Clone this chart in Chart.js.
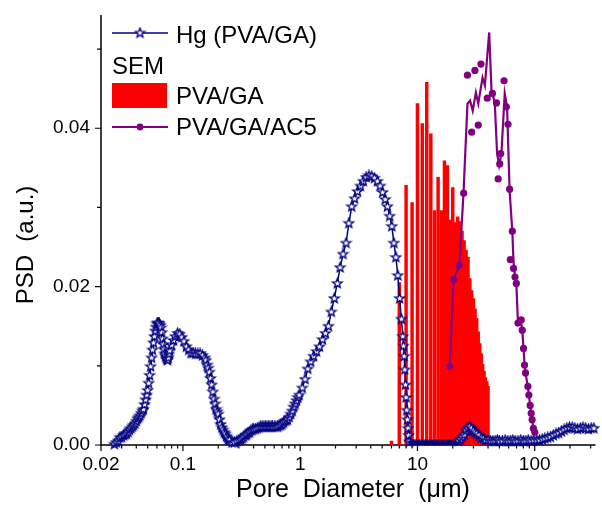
<!DOCTYPE html>
<html>
<head>
<meta charset="utf-8">
<script src="https://cdn.jsdelivr.net/npm/chart.js@4.4.1/dist/chart.umd.min.js"></script>
<style>
  html, body { margin: 0; padding: 0; background: #fff; }
  #wrap { position: relative; width: 602px; height: 514px; }
</style>
</head>
<body>
<div id="wrap"><canvas id="psd"></canvas></div>
<script>
// Hg intrusion, PVA/GA  [diameter um, PSD]
const hgPoints = [
  [0.026,0.0001],[0.027,0.0003],[0.028,0.0005],[0.029,0.0009],[0.030,0.0010],
  [0.031,0.0012],[0.032,0.0013],[0.033,0.0014],[0.034,0.0016],[0.035,0.0019],
  [0.036,0.0021],[0.037,0.0023],[0.038,0.0025],[0.039,0.0027],[0.040,0.0030],
  [0.041,0.0033],[0.042,0.0035],[0.043,0.0037],[0.044,0.0040],[0.045,0.0043],
  [0.046,0.0045],[0.047,0.0051],[0.048,0.0057],[0.049,0.0063],[0.050,0.0069],
  [0.051,0.0078],[0.052,0.0088],[0.053,0.0099],[0.054,0.0110],[0.055,0.0120],
  [0.056,0.0129],[0.057,0.0137],[0.058,0.0144],[0.059,0.0149],[0.060,0.0153],
  [0.061,0.0154],[0.062,0.0154],[0.063,0.0153],[0.064,0.0151],[0.065,0.0148],
  [0.066,0.0142],[0.067,0.0134],[0.068,0.0127],[0.069,0.0121],[0.070,0.0115],
  [0.071,0.0112],[0.072,0.0110],[0.073,0.0108],[0.074,0.0107],[0.075,0.0110],
  [0.076,0.0115],[0.077,0.0119],[0.080,0.0126],[0.083,0.0132],[0.086,0.0137],
  [0.090,0.0141],[0.094,0.0140],[0.098,0.0136],[0.102,0.0131],[0.107,0.0124],
  [0.112,0.0120],[0.117,0.0116],[0.122,0.0116],[0.128,0.0115],[0.134,0.0115],
  [0.140,0.0115],[0.147,0.0113],[0.154,0.0110],[0.157,0.0107],[0.161,0.0101],
  [0.164,0.0097],[0.168,0.0092],[0.172,0.0084],[0.176,0.0076],[0.180,0.0067],
  [0.184,0.0058],[0.188,0.0052],[0.192,0.0045],[0.196,0.0042],[0.200,0.0039],
  [0.205,0.0032],[0.210,0.0026],[0.215,0.0022],[0.220,0.0019],[0.225,0.0016],
  [0.230,0.0014],[0.235,0.0011],[0.240,0.0009],[0.245,0.0007],[0.250,0.0006],
  [0.262,0.0003],[0.275,0.0003],[0.288,0.0005],[0.300,0.0006],
  [0.31,0.0007],[0.32,0.0008],[0.33,0.0010],[0.34,0.0012],[0.35,0.0013],
  [0.36,0.0015],[0.37,0.0016],[0.38,0.0018],[0.39,0.0019],[0.40,0.0020],
  [0.415,0.0020],[0.43,0.0021],[0.445,0.0022],[0.46,0.0023],[0.475,0.0023],
  [0.49,0.0023],[0.505,0.0023],[0.52,0.0023],[0.535,0.0023],[0.55,0.0023],
  [0.565,0.0023],[0.58,0.0023],[0.60,0.0023],[0.62,0.0023],[0.64,0.0023],
  [0.66,0.0024],[0.68,0.0025],[0.70,0.0026],[0.72,0.0028],[0.74,0.0030],
  [0.76,0.0031],[0.78,0.0032],[0.805,0.0035],[0.83,0.0039],[0.855,0.0043],
  [0.88,0.0048],[0.905,0.0052],[0.93,0.0056],[0.955,0.0060],[0.98,0.0063],
  [1.04,0.0072],[1.10,0.0083],[1.16,0.0096],[1.23,0.0105],[1.30,0.0112],
  [1.38,0.0118],[1.46,0.0124],
  [1.55,0.0133],[1.64,0.0141],[1.74,0.0150],[1.84,0.0168],[1.95,0.0185],
  [2.07,0.0204],[2.19,0.0224],[2.32,0.0241],[2.46,0.0255],[2.60,0.0280],
  [2.75,0.0301],[2.91,0.0311],[3.08,0.0320],[3.26,0.0327],[3.45,0.0333],
  [3.65,0.0338],[3.86,0.0340],[4.08,0.0339],[4.31,0.0337],[4.55,0.0333],
  [4.80,0.0327],[5.05,0.0319],[5.30,0.0310],[5.55,0.0301],[5.80,0.0289],
  [6.05,0.0276],[6.30,0.0255],[6.55,0.0237],[6.80,0.0214],[7.05,0.0185],
  [7.30,0.0159],[7.50,0.0137],[7.60,0.0125],[7.70,0.0112],[7.80,0.0095],
  [7.90,0.0076],[8.00,0.0060],[8.10,0.0044],[8.20,0.0032],[8.30,0.0021],
  [8.40,0.0012],[8.50,0.0004],
  [8.7,0.0003],[8.9,0.0003],[9.1,0.0003],[9.3,0.0003],[9.5,0.0003],
  [9.8,0.0003],[10.1,0.0003],[10.4,0.0003],[10.7,0.0003],[11.0,0.0003],
  [11.4,0.0003],[11.8,0.0003],[12.2,0.0003],[12.6,0.0003],[13.0,0.0003],
  [13.5,0.0003],[14.0,0.0003],[14.5,0.0003],[15.0,0.0003],[15.5,0.0003],
  [16.0,0.0003],[16.6,0.0003],[17.2,0.0003],[17.8,0.0003],[18.4,0.0003],
  [19.0,0.0003],[19.7,0.0003],[20.4,0.0003],[21.1,0.0003],[21.8,0.0003],
  [22.5,0.0005],[23.3,0.0007],[24.1,0.0010],[25.0,0.0013],[26.0,0.0018],
  [27.0,0.0021],[28.0,0.0023],[29.0,0.0021],[30.0,0.0018],[31.0,0.0016],
  [32.0,0.0014],[33.5,0.0012],[35.0,0.0009],[36.5,0.0008],[38.0,0.0006],
  [40,0.0006],[42,0.0005],[44,0.0005],[46,0.0005],[48,0.0006],
  [50,0.0005],[53,0.0005],[56,0.0006],[59,0.0005],[62,0.0005],
  [65,0.0006],[68,0.0005],[72,0.0005],[76,0.0006],[80,0.0005],
  [84,0.0005],[88,0.0006],[93,0.0005],[98,0.0006],[104,0.0006],
  [110,0.0006],[116,0.0007],[122,0.0008],[129,0.0009],[136,0.0010],
  [144,0.0012],[152,0.0014],[160,0.0015],[169,0.0017],[178,0.0019],
  [188,0.0021],[198,0.0022],[209,0.0022],[220,0.0021],[232,0.0020],
  [245,0.0021],[258,0.0022],[272,0.0021],[287,0.0020],[303,0.0021],
  [320,0.0021]
];
// stretch where the Hg markers run together into a solid trace
const hgSolidRange = [8.6, 22.2];

// SEM histogram, PVA/GA (1 um bins)
const semDiameter = [6, 7, 8, 9, 10, 11, 12, 13, 14, 15, 16, 17, 18, 19, 20, 21, 22, 23,
  24, 25, 26, 27, 28, 29, 30, 31, 32, 33, 34, 35, 36, 37, 38, 39, 40];
const semPSD = [0.0005, 0.0205, 0.0328, 0.0306, 0.0431, 0.0406, 0.0458, 0.0393, 0.0296,
  0.0338, 0.0296, 0.0359, 0.0353, 0.0284, 0.0325, 0.0281, 0.0288, 0.0282, 0.0270, 0.0258,
  0.0246, 0.0237, 0.0210, 0.0195, 0.0185, 0.0172, 0.0160, 0.0143, 0.0128, 0.0115, 0.0102,
  0.0093, 0.0085, 0.0080, 0.0074];

// PVA/GA/AC5: connecting curve
const ac5CurveDiameter = [18.8, 20.4, 22.8, 24.7, 26.7, 28.1, 29.6, 31.5, 33.0, 35.9, 37.6,
  40.9, 42.8, 45.6, 47.8, 49.7, 52.0, 55.5, 58.1, 61.1, 64.4, 66.0, 67.9, 69.7, 72.0, 76.7,
  78.3, 80.3, 81.9, 83.5, 87.5, 89.2, 91.5, 93.3, 95.1, 97.5, 100.2];
const ac5CurvePSD = [0.0099, 0.0210, 0.0227, 0.0318, 0.0431, 0.0435, 0.0422, 0.0445, 0.0431,
  0.0464, 0.0454, 0.0521, 0.0448, 0.0433, 0.0368, 0.0353, 0.0368, 0.0444, 0.0427, 0.0321,
  0.0270, 0.0231, 0.0212, 0.0204, 0.0154, 0.0155, 0.0145, 0.0122, 0.0101, 0.0091, 0.0073,
  0.0063, 0.0050, 0.0040, 0.0032, 0.0021, 0.0015];

// PVA/GA/AC5: measured points
const ac5Diameter = [18.8, 20.4, 22.8, 24.8, 26.7, 29.0, 30.9, 33.0, 34.8, 39.4, 43.6, 47.2,
  48.8, 50.3, 51.3, 54.8, 57.3, 59.2, 61.1, 62.0, 64.4, 66.0, 67.9, 69.7, 72.0, 76.7, 78.3,
  80.3, 81.9, 83.5, 87.5, 89.2, 91.5, 93.3, 95.1, 97.5, 100.2];
const ac5PSD = [0.0099, 0.0209, 0.0227, 0.0318, 0.0467, 0.0395, 0.0473, 0.0404, 0.0481,
  0.0438, 0.0444, 0.0432, 0.0336, 0.0355, 0.0368, 0.0460, 0.0427, 0.0405, 0.0323, 0.0234,
  0.0270, 0.0223, 0.0212, 0.0204, 0.0154, 0.0158, 0.0145, 0.0122, 0.0101, 0.0091, 0.0074,
  0.0063, 0.0050, 0.0040, 0.0032, 0.0021, 0.0016];

// axis ticks
const xMajorTicks = [0.02, 0.1, 1, 10, 100];
const xTickLabels = ['0.02', '0.1', '1', '10', '100'];
const xMinorTicks = [0.03, 0.04, 0.05, 0.06, 0.07, 0.08, 0.09,
  0.2, 0.3, 0.4, 0.5, 0.6, 0.7, 0.8, 0.9,
  2, 3, 4, 5, 6, 7, 8, 9,
  20, 30, 40, 50, 60, 70, 80, 90,
  200, 300];
const yMajorTicks = [0, 0.02, 0.04];
const yTickLabels = ['0.00', '0.02', '0.04'];
const yMinorTicks = [0.01, 0.03, 0.05];

const NAVY = '#000080';
const RED = '#ff0000';
const PURPLE = '#800080';
const FONT = '"Liberation Sans", Arial, sans-serif';

Chart.defaults.font.family = FONT;
Chart.defaults.color = '#000';

function pairs(xs, ys) {
  return xs.map((x, i) => ({ x: x, y: ys[i] }));
}

function findTick(list, v) {
  return list.findIndex(t => Math.abs(t - v) <= Math.abs(t) * 1e-6 + 1e-12);
}

// five-pointed star marker
function makeStar(r, fill, lw) {
  const s = Math.ceil(r * 2 + 3);
  const c = document.createElement('canvas');
  c.width = s;
  c.height = s;
  const g = c.getContext('2d');
  g.translate(s / 2, s / 2);
  g.beginPath();
  for (let i = 0; i < 10; i++) {
    const rad = i % 2 ? r * 0.42 : r;
    const a = -Math.PI / 2 + i * Math.PI / 5;
    g.lineTo(rad * Math.cos(a), rad * Math.sin(a));
  }
  g.closePath();
  g.fillStyle = fill;
  g.fill();
  g.strokeStyle = NAVY;
  g.lineWidth = lw;
  g.stroke();
  return c;
}
const star = makeStar(5, '#fff', 1.3);
const starSolid = makeStar(3, NAVY, 1);

// axis lines, tick marks, axis titles and the legend block
const decor = {
  id: 'decor',
  beforeDatasetsDraw(chart) {
    const { ctx, chartArea: a, scales: { x, y } } = chart;
    ctx.save();
    ctx.strokeStyle = '#000';
    ctx.lineWidth = 1.5;
    ctx.beginPath();
    ctx.moveTo(a.left, a.top);
    ctx.lineTo(a.left, a.bottom);
    ctx.lineTo(a.right, a.bottom);
    ctx.stroke();
    ctx.lineWidth = 1.2;
    ctx.beginPath();
    xMajorTicks.forEach(v => { const p = x.getPixelForValue(v); ctx.moveTo(p, a.bottom); ctx.lineTo(p, a.bottom + 6); });
    xMinorTicks.forEach(v => { const p = x.getPixelForValue(v); ctx.moveTo(p, a.bottom); ctx.lineTo(p, a.bottom + 3.5); });
    yMajorTicks.forEach(v => { const p = y.getPixelForValue(v); ctx.moveTo(a.left, p); ctx.lineTo(a.left - 6, p); });
    yMinorTicks.forEach(v => { const p = y.getPixelForValue(v); ctx.moveTo(a.left, p); ctx.lineTo(a.left - 4, p); });
    ctx.stroke();
    ctx.restore();
  },
  afterDraw(chart) {
    const ctx = chart.ctx;
    const ds = chart.data.datasets;
    ctx.save();
    ctx.fillStyle = '#000';
    ctx.textBaseline = 'alphabetic';

    // axis titles
    ctx.font = '25px ' + FONT;
    ctx.textAlign = 'center';
    ctx.fillText('Pore  Diameter  (\u03bcm)', 353, 497);
    ctx.font = '24px ' + FONT;
    ctx.save();
    ctx.translate(33, 245);
    ctx.rotate(-Math.PI / 2);
    ctx.fillText('PSD  (a.u.)', 0, 0);
    ctx.restore();

    // legend
    ctx.font = '24px ' + FONT;
    ctx.textAlign = 'left';
    ctx.strokeStyle = ds[1].borderColor;
    ctx.lineWidth = 1.3;
    ctx.beginPath();
    ctx.moveTo(112, 33);
    ctx.lineTo(168, 33);
    ctx.stroke();
    ctx.drawImage(star, 140 - star.width / 2, 33 - star.height / 2);
    ctx.fillText(ds[1].label, 176, 43);

    ctx.fillText('SEM', 112, 74);
    ctx.fillStyle = ds[0].backgroundColor;
    ctx.fillRect(112, 83, 55, 25);
    ctx.fillStyle = '#000';
    ctx.fillText(ds[0].label, 176, 104);

    ctx.strokeStyle = ds[2].borderColor;
    ctx.lineWidth = 2;
    ctx.beginPath();
    ctx.moveTo(112, 127);
    ctx.lineTo(168, 127);
    ctx.stroke();
    ctx.fillStyle = ds[3].pointBackgroundColor;
    ctx.beginPath();
    ctx.arc(140, 127, 3.4, 0, Math.PI * 2);
    ctx.fill();
    ctx.fillStyle = '#000';
    ctx.fillText(ds[2].label, 176, 135);
    ctx.restore();
  }
};

new Chart(document.getElementById('psd'), {
  type: 'line',
  data: {
    datasets: [
      {
        type: 'bar',
        label: 'PVA/GA',
        data: pairs(semDiameter, semPSD),
        backgroundColor: RED,
        borderWidth: 0,
        barThickness: 2.8,
        order: 3
      },
      {
        label: 'Hg (PVA/GA)',
        data: hgPoints.map(p => ({ x: p[0], y: p[1] })),
        borderColor: NAVY,
        borderWidth: 1.5,
        pointStyle: c => (c.raw && c.raw.x > hgSolidRange[0] && c.raw.x < hgSolidRange[1]) ? starSolid : star,
        pointRadius: 5,
        fill: false,
        tension: 0,
        clip: false,
        order: 2
      },
      {
        label: 'PVA/GA/AC5',
        data: pairs(ac5CurveDiameter, ac5CurvePSD),
        borderColor: PURPLE,
        borderWidth: 2.2,
        pointRadius: 0,
        fill: false,
        tension: 0,
        clip: false,
        order: 1
      },
      {
        label: 'PVA/GA/AC5 points',
        data: pairs(ac5Diameter, ac5PSD),
        showLine: false,
        pointRadius: 3.6,
        pointBackgroundColor: PURPLE,
        pointBorderColor: PURPLE,
        pointBorderWidth: 0,
        clip: false,
        order: 0
      }
    ]
  },
  options: {
    responsive: true,
    maintainAspectRatio: false,
    devicePixelRatio: 1,
    animation: false,
    events: [],
    layout: { padding: { left: 0, right: 2, top: 15, bottom: 0 } },
    plugins: { legend: { display: false }, tooltip: { enabled: false } },
    scales: {
      x: {
        type: 'logarithmic',
        min: 0.02,
        max: 330,
        offset: false,
        bounds: 'data',
        grid: { display: false, drawTicks: false, offset: false },
        border: { display: false },
        afterBuildTicks: s => {
          s.ticks = xMajorTicks.concat(xMinorTicks).sort((a, b) => a - b).map(v => ({ value: v }));
        },
        afterFit: s => {
          s.height = 69;
          s.paddingLeft = 0;
          s.paddingRight = 0;
        },
        ticks: {
          autoSkip: false,
          maxRotation: 0,
          minRotation: 0,
          padding: 8,
          font: { size: 19 },
          callback: v => { const i = findTick(xMajorTicks, v); return i >= 0 ? xTickLabels[i] : ''; }
        }
      },
      y: {
        type: 'linear',
        min: 0,
        max: 0.0543,
        bounds: 'data',
        grid: { display: false, drawTicks: false },
        border: { display: false },
        afterBuildTicks: s => {
          s.ticks = yMajorTicks.concat(yMinorTicks).sort((a, b) => a - b).map(v => ({ value: v }));
        },
        afterFit: s => {
          s.width = 101;
          s.paddingTop = 0;
          s.paddingBottom = 0;
        },
        ticks: {
          autoSkip: false,
          padding: 11,
          font: { size: 19 },
          callback: v => { const i = findTick(yMajorTicks, v); return i >= 0 ? yTickLabels[i] : ''; }
        }
      }
    }
  },
  plugins: [decor]
});
</script>
</body>
</html>
